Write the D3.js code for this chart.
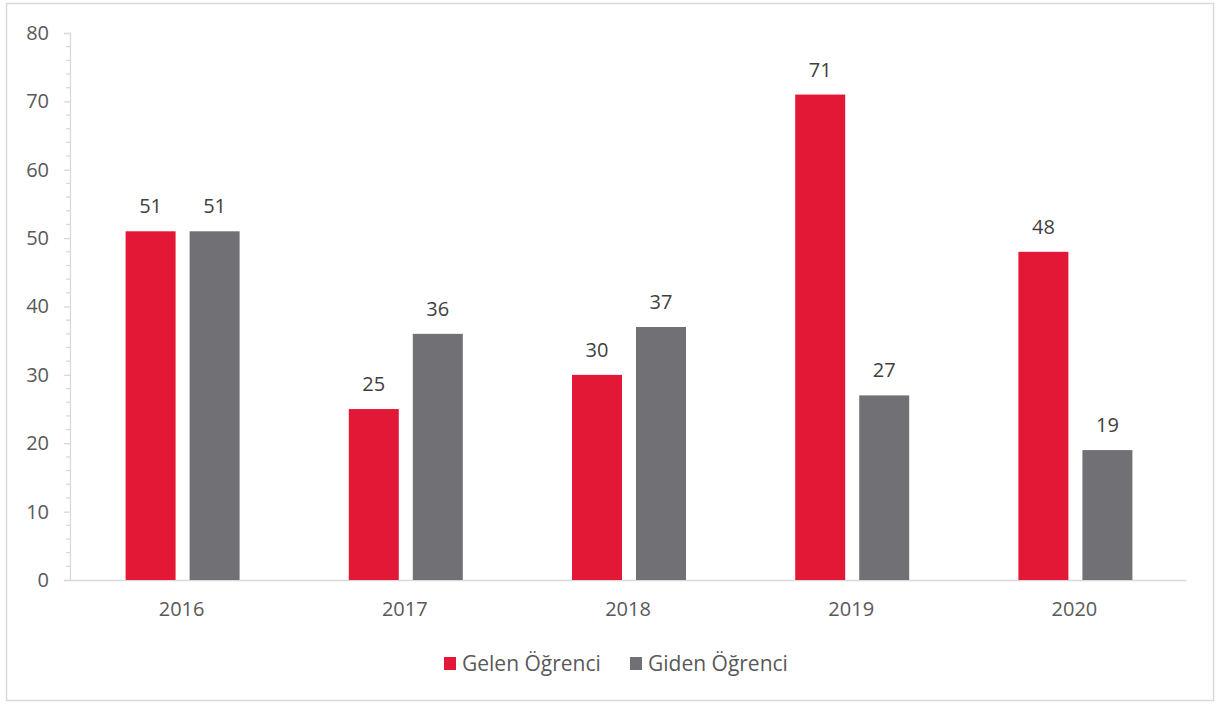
<!DOCTYPE html>
<html><head><meta charset="utf-8">
<script src="https://cdn.jsdelivr.net/npm/d3@7"></script>
<style>body{margin:0;background:#fff;} text{font-family:"Open Sans",sans-serif;}</style>
</head><body>
<svg id="c" width="1217" height="705"></svg>
<script>
const years = ["2016","2017","2018","2019","2020"];
const seriesNames = ["Gelen Öğrenci","Giden Öğrenci"];
const gelen = [51,25,30,71,48];
const giden = [51,36,37,27,19];
const colors = ["#E31837","#717074"];
const yTicks = [0,10,20,30,40,50,60,70,80];

const svg = d3.select("#c");
svg.append("rect").attr("x",6.5).attr("y",3.5).attr("width",1207).attr("height",697)
  .attr("fill","#fff").attr("stroke","#d9d9d9").attr("stroke-width",1.5);

const L=70, R=1186, T=33, B=580;
const FS = "20px";
const x0 = d3.scaleBand().domain(years).range([L,R]).padding(0);
const x1 = d3.scaleBand().domain(seriesNames).range([0,x0.bandwidth()]).paddingInner(0.219).paddingOuter(0.853);
const y = d3.scaleLinear().domain([0,80]).range([B,T]);
const txt = "#595959";

// minor ticks
const minor = d3.range(0,81,2).filter(v=>v%10!==0);
svg.append("g").selectAll("line").data(minor).join("line")
  .attr("x1",L-4).attr("x2",L).attr("y1",d=>y(d)).attr("y2",d=>y(d))
  .attr("stroke","#d9d9d9").attr("stroke-width",1.3);

const ya = svg.append("g").attr("transform",`translate(${L},0)`)
  .call(d3.axisLeft(y).tickValues(yTicks).tickSize(6).tickPadding(15));
ya.select(".domain").attr("stroke","#d9d9d9").attr("stroke-width",1.3);
ya.selectAll(".tick line").attr("stroke","#d9d9d9").attr("stroke-width",1.3);
ya.selectAll("text").attr("fill",txt).style("font-size",FS).style("font-family","Open Sans");

const xa = svg.append("g").attr("transform",`translate(0,${B})`)
  .call(d3.axisBottom(x0).tickSize(0).tickPadding(22));
xa.select(".domain").attr("stroke","#d9d9d9").attr("stroke-width",1.3);
xa.selectAll("text").attr("fill",txt).style("font-size",FS).style("font-family","Open Sans");

const data = years.map((yr,i)=>({year:yr, vals:[gelen[i],giden[i]]}));
const g = svg.append("g").selectAll("g").data(data).join("g")
  .attr("transform",d=>`translate(${x0(d.year)+1},0)`);
g.selectAll("rect").data(d=>d.vals.map((v,k)=>({k,v}))).join("rect")
  .attr("x",d=>x1(seriesNames[d.k])).attr("width",x1.bandwidth())
  .attr("y",d=>y(d.v)).attr("height",d=>B-y(d.v)).attr("fill",d=>colors[d.k]);
g.selectAll("text.lbl").data(d=>d.vals.map((v,k)=>({k,v}))).join("text")
  .attr("class","lbl")
  .attr("x",d=>x1(seriesNames[d.k])+x1.bandwidth()/2).attr("y",d=>y(d.v)-18)
  .attr("text-anchor","middle").attr("fill","#404040").style("font-size",FS)
  .text(d=>d.v);

// legend
const leg = svg.append("g");
const legX = [444,630];
seriesNames.forEach((s,i)=>{
  leg.append("rect").attr("x",legX[i]).attr("y",657).attr("width",12).attr("height",13).attr("fill",colors[i]);
  leg.append("text").attr("x",legX[i]+18).attr("y",671).attr("fill",txt).style("font-size","21px").text(s);
});
</script>
</body></html>
